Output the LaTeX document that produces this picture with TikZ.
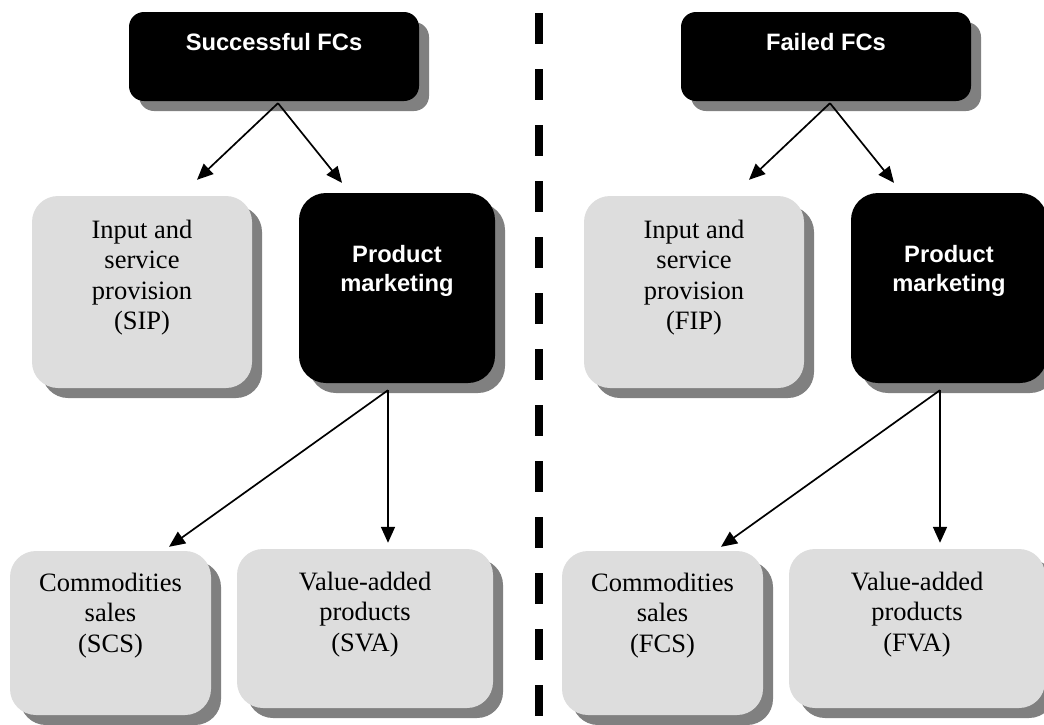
\documentclass[tikz,border=0pt]{standalone}
\usepackage{fontspec}
\setmainfont{Liberation Serif}
\newfontfamily\headsans{Liberation Sans}
\usetikzlibrary{arrows.meta,shadows,calc}

\definecolor{boxgrey}{RGB}{221,221,221}
\definecolor{shadegrey}{RGB}{128,128,128}

\tikzset{
  panel/.style={inner sep=0pt, draw=none,
    drop shadow={shadow xshift=10pt, shadow yshift=-10pt, fill=shadegrey, opacity=1}},
  darkbox/.style={panel, fill=black},
  lightbox/.style={panel, fill=boxgrey},
  headtext/.style={anchor=north, inner sep=0pt, align=center, text=white,
    font=\headsans\bfseries\fontsize{23.7pt}{29pt}\selectfont},
  bodytext/.style={anchor=north, inner sep=0pt, align=center, text=black,
    font=\fontsize{26.5pt}{30.5pt}\selectfont},
  flow/.style={draw=black, line width=1.7pt, -{Triangle[length=16pt, width=14pt]}},
  divider/.style={draw=black, line width=8pt, dash pattern=on 31pt off 25pt}
}

\begin{document}
\begin{tikzpicture}[x=1pt, y=-1pt]
  \useasboundingbox (0,0) rectangle (1044,724);
  \clip (0,0) rectangle (1044,724);

  % ---- left half: successful cooperatives ----
  \node[darkbox, rounded corners=15pt, minimum width=290pt, minimum height=89pt] (succ) at (274,56.5) {};
  \node[lightbox, rounded corners=26pt, minimum width=220pt, minimum height=192pt] (sip) at (142,292) {};
  \node[darkbox, rounded corners=27pt, minimum width=196pt, minimum height=190pt] (pmS) at (397,288) {};
  \node[lightbox, rounded corners=26pt, minimum width=201pt, minimum height=164pt] (scs) at (110.5,633) {};
  \node[lightbox, rounded corners=26pt, minimum width=256pt, minimum height=159pt] (sva) at (365,628.5) {};

  \node[headtext] (succT) at ($(succ.north)+(0,21)$) {Successful FCs};
  \node[bodytext] (sipT) at ($(sip.north)+(0,24)$) {Input and\\service\\provision\\(SIP)};
  \node[headtext] (pmST) at ($(pmS.north)+(0,52)$) {Product\\marketing};
  \node[bodytext] (scsT) at ($(scs.north)+(0,22)$) {Commodities\\sales\\(SCS)};
  \node[bodytext] (svaT) at ($(sva.north)+(0,23)$) {Value-added\\products\\(SVA)};

  \draw[flow] ($(succ.south)+(4,2)$) -- ($(sip.north)+(55,-16)$);
  \draw[flow] ($(succ.south)+(4,2)$) -- ($(pmS.north)+(-55,-10)$);
  \draw[flow] ($(pmS.south)+(-9,7)$) -- ($(scs.north)+(58.5,-4)$);
  \draw[flow] ($(pmS.south)+(-9,7)$) -- ($(sva.north)+(23,-6)$);

  % ---- right half: failed cooperatives ----
  \node[darkbox, rounded corners=15pt, minimum width=290pt, minimum height=89pt] (fail) at (826,56.5) {};
  \node[lightbox, rounded corners=26pt, minimum width=220pt, minimum height=192pt] (fip) at (694,292) {};
  \node[darkbox, rounded corners=27pt, minimum width=196pt, minimum height=190pt] (pmF) at (949,288) {};
  \node[lightbox, rounded corners=26pt, minimum width=201pt, minimum height=164pt] (fcs) at (662.5,633) {};
  \node[lightbox, rounded corners=26pt, minimum width=256pt, minimum height=159pt] (fva) at (917,628.5) {};

  \node[headtext] (failT) at ($(fail.north)+(0,21)$) {Failed FCs};
  \node[bodytext] (fipT) at ($(fip.north)+(0,24)$) {Input and\\service\\provision\\(FIP)};
  \node[headtext] (pmFT) at ($(pmF.north)+(0,52)$) {Product\\marketing};
  \node[bodytext] (fcsT) at ($(fcs.north)+(0,22)$) {Commodities\\sales\\(FCS)};
  \node[bodytext] (fvaT) at ($(fva.north)+(0,23)$) {Value-added\\products\\(FVA)};

  \draw[flow] ($(fail.south)+(4,2)$) -- ($(fip.north)+(55,-16)$);
  \draw[flow] ($(fail.south)+(4,2)$) -- ($(pmF.north)+(-55,-10)$);
  \draw[flow] ($(pmF.south)+(-9,7)$) -- ($(fcs.north)+(58.5,-4)$);
  \draw[flow] ($(pmF.south)+(-9,7)$) -- ($(fva.north)+(23,-6)$);

  % ---- dividing line between the two halves ----
  \coordinate (divTop) at (538.5,13);
  \coordinate (divBot) at (538.5,716);
  \draw[divider] (divTop) -- (divBot);
\end{tikzpicture}
\end{document}
